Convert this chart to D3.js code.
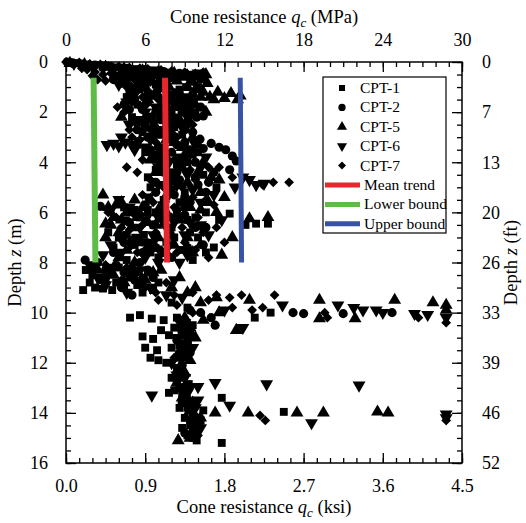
<!DOCTYPE html>
<html><head><meta charset="utf-8">
<script src="https://cdn.jsdelivr.net/npm/d3@7"></script>
<style>body{margin:0;background:#fff;} svg{display:block;}</style>
</head><body>
<svg id="c" width="526" height="523"></svg>
<script>
// ---- data: [qc (MPa), depth z (m)] ----
const cpt1 = [[0.2,0.02],[0.8,0.05],[1.6,0.1],[2.8,0.15],[4.0,0.22],[5.2,0.3],[6.4,0.35],
[4.2,0.8],[5.5,1.1],[6.8,0.9],[8.0,1.3],[9.1,1.0],[6.2,1.6],[7.4,2.0],[8.6,1.8],[5.0,2.2],[6.6,2.5],[8.2,2.6],[9.3,2.3],[4.6,1.4],[7.0,2.9],
[6.0,3.6],[7.2,3.9],[8.4,4.1],[9.6,3.7],[6.2,4.6],[6.4,5.0],[7.8,4.8],[9.0,5.2],[10.4,4.5],[11.4,5.0],[5.4,3.3],
[4.4,5.8],[5.6,6.2],[6.8,6.0],[8.0,6.6],[9.2,6.3],[10.6,6.0],[12.4,6.05],[13.6,6.5],[14.4,6.45],[15.3,6.45],[4.0,7.0],[5.2,7.3],[6.4,7.6],[7.6,7.2],[8.8,7.5],[10.0,7.0],[11.2,7.4],[3.2,6.8],[5.9,6.9],[9.6,7.9],
[1.5,8.3],[2.0,8.5],[2.6,8.7],[1.3,9.1],[2.2,9.0],[2.8,9.04],[3.5,9.1],[3.2,8.4],[4.0,8.2],[4.8,8.6],[5.4,8.9],[6.2,8.4],[3.8,8.8],[5.8,9.2],[7.0,8.8],
[4.85,10.2],[5.6,10.1],[6.5,10.24],[7.4,10.3],[15.5,10.0],[14.3,10.2],[8.0,9.6],[9.2,9.8],
[6.0,11.4],[6.4,11.8],[6.6,11.05],[6.9,11.5],[7.0,11.9],[5.8,10.95],[7.2,10.7],[8.2,10.6],[9.0,10.9],[8.6,11.3],[9.6,10.5],[8.4,11.8],
[8.4,12.3],[8.8,12.6],[9.3,12.85],[8.2,13.1],[8.8,13.3],[11.8,13.4],[9.2,13.8],[9.6,14.1],[9.4,14.5],[9.8,14.8],[9.9,15.1],[16.5,13.96],[11.8,15.2],[10.2,14.3],[9.0,13.6],[10.4,13.9],
[3.8,0.55],[5.0,0.5],[6.0,0.6],[7.6,0.55],[5.6,0.75],[7.2,0.8],[8.6,1.1],[10.0,1.0],[4.8,1.2],[6.6,1.35],[7.8,1.55],[9.6,1.5],[5.4,1.7],[8.0,2.1],[9.8,2.0],[6.0,2.35],[7.6,2.6],[8.8,2.9],[5.8,2.8],[9.0,3.4],[6.8,3.9],[8.0,4.4],[9.2,4.0],[10.0,3.6],[6.8,4.3],[7.4,5.5],[8.6,5.6],[5.2,5.9],[6.2,5.9],[7.4,6.4],[8.4,6.1],[9.8,6.2],[4.6,6.9],[6.0,7.2],[7.0,7.8],[8.2,7.0],[9.4,6.8],[10.6,7.6],[11.6,6.3],[3.6,7.4],[4.6,7.9],[2.2,8.2],[3.0,8.8],[4.4,9.0],[5.0,8.4],[6.6,9.1],[1.8,8.8],[8.4,10.2],[7.8,10.9],[8.0,11.4],[7.6,12.0],[8.0,12.6],[7.8,13.2],[8.6,13.8],[9.0,14.2],[9.2,14.9],[9.6,15.0],[8.8,14.6]];
const cpt2 = [[0.1,0.0],[0.5,0.03],[1.2,0.08],[2.2,0.12],[3.4,0.18],[4.6,0.25],[6.0,0.3],[7.4,0.38],[8.6,0.45],[10.0,0.55],
[3.6,0.7],[5.0,0.6],[6.0,1.0],[7.0,1.4],[8.4,0.7],[9.6,1.3],[10.2,1.8],[9.9,2.2],[10.4,2.15],[8.8,2.0],[7.6,1.7],[5.8,1.9],[4.4,1.7],[6.4,2.2],[7.8,2.4],[9.0,2.7],[5.4,2.7],[6.2,3.0],
[10.15,3.08],[11.0,3.25],[11.6,3.4],[12.1,3.5],[12.6,3.75],[12.9,3.95],[12.4,4.3],
[7.0,3.4],[8.0,3.6],[9.0,3.2],[9.8,4.0],[7.4,4.4],[8.6,4.7],[10.0,4.9],[11.2,4.4],[6.8,5.2],[8.2,5.3],[9.4,5.6],
[2.6,5.76],[4.8,6.4],[6.0,5.7],[7.2,6.2],[8.4,5.9],[9.8,6.6],[5.0,7.1],[6.8,7.4],[8.0,7.8],[10.4,7.3],[3.6,7.6],[1.45,7.9],[2.4,8.0],
[2.0,8.2],[3.0,8.6],[4.4,8.4],[5.6,8.0],[6.6,8.6],[4.2,9.0],[5.0,9.3],
[17.2,10.0],[18.0,10.04],[21.0,10.04],[24.7,10.0],[10.2,10.0],[11.0,10.2],[11.3,10.5],[9.4,9.9],
[8.8,10.8],[9.2,11.2],[8.6,11.6],[8.8,12.1],[8.4,12.7],[8.6,13.0],
[4.2,0.6],[5.6,0.55],[6.8,0.5],[7.8,0.65],[9.4,0.65],[4.8,0.95],[6.2,1.25],[7.4,1.05],[8.6,1.3],[5.2,1.5],[8.2,1.6],[9.2,1.8],[4.8,1.9],[6.8,2.0],[7.2,2.3],[8.4,2.45],[6.0,2.6],[9.6,2.8],[7.8,3.0],[8.4,3.3],[6.4,3.5],[9.4,3.5],[10.4,3.45],[7.2,4.1],[8.4,4.4],[9.8,4.6],[10.8,4.8],[6.8,4.8],[7.6,5.4],[9.0,5.4],[10.6,5.2],[5.6,6.1],[6.6,6.5],[7.8,6.8],[9.0,6.1],[10.6,6.6],[4.4,7.2],[5.8,7.6],[7.4,7.6],[9.2,7.4],[3.0,8.3],[3.8,8.1],[5.2,8.7],[6.2,8.3],[8.6,10.3],[9.0,10.6],[8.4,11.1],[9.4,11.6],[8.4,12.4],[8.8,13.6],[9.4,14.3],[9.0,14.8]];
const cpt5 = [[0.3,0.05],[1.4,0.1],[3.0,0.2],[4.4,0.27],[5.8,0.35],[7.0,0.4],[8.2,0.45],[9.2,0.55],[10.2,0.6],[10.6,0.5],
[8.9,0.6],[9.6,0.8],[10.3,0.7],[10.7,0.85],[9.2,1.0],
[10.9,1.4],[11.5,1.2],[12.0,1.45],[12.5,1.25],[13.0,1.5],[13.2,1.35],[11.2,1.5],[10.4,1.2],
[5.4,0.9],[6.8,1.2],[7.8,1.0],[8.6,1.5],[9.8,1.7],[7.2,2.1],[8.6,2.3],[9.4,2.0],[5.8,2.4],[8.0,2.8],[6.8,2.6],
[7.6,3.1],[8.8,3.4],[9.6,3.0],[7.6,3.8],[8.8,4.2],[10.4,4.0],[11.6,4.7],[6.8,4.4],[9.2,4.8],[10.2,5.2],[12.0,5.4],
[2.8,5.3],[3.0,6.45],[3.4,6.5],[3.8,5.7],[4.2,5.6],[4.6,6.0],[5.2,5.5],[5.8,5.8],[6.4,5.5],[7.0,5.9],[3.6,6.2],[4.0,6.8],[5.0,6.6],[6.2,6.4],[7.6,6.0],[8.6,6.3],[9.4,5.8],[10.8,5.6],[13.9,6.25],[15.3,6.2],[12.6,7.0],[11.8,7.7],[5.6,7.2],[7.0,7.0],[8.2,7.3],[9.6,7.6],[4.6,7.5],[3.0,7.0],
[2.4,8.3],[3.6,8.5],[5.0,8.2],[6.0,8.7],[7.2,8.3],[8.0,9.0],[9.2,9.2],[10.2,9.6],[13.9,9.5],
[19.2,9.5],[24.9,9.5],[27.8,9.6],[28.8,9.7],[28.8,9.9],[19.2,10.24],[21.9,10.24],[12.9,10.7],[11.4,9.4],[11.6,10.0],[10.4,10.3],
[9.4,10.6],[9.8,11.0],[9.2,11.5],[9.4,11.9],[9.0,12.4],[8.8,13.4],[9.4,13.9],[10.0,14.4],[9.6,14.7],[8.5,15.1],
[13.8,14.0],[17.5,14.0],[19.5,14.0],[23.6,13.96],[24.4,14.0],[11.3,14.0],
[5.0,0.45],[6.6,0.5],[7.6,0.6],[8.4,0.75],[9.8,1.1],[6.0,0.8],[7.2,0.9],[5.0,1.3],[6.2,1.5],[7.4,1.6],[8.2,1.8],[10.2,1.4],[10.6,2.0],[4.2,2.2],[6.6,2.3],[9.0,2.5],[7.4,2.9],[8.2,3.2],[9.0,3.7],[10.0,3.3],[6.4,3.9],[7.2,4.3],[8.2,4.6],[10.0,4.4],[11.0,4.6],[7.8,5.2],[9.0,5.8],[10.2,5.9],[11.4,6.0],[3.2,5.8],[4.2,6.3],[5.4,6.2],[6.8,6.5],[8.0,6.9],[9.2,7.0],[10.2,7.3],[6.2,7.4],[7.6,7.6],[4.0,7.8],[5.2,8.0],[8.6,8.6],[6.6,8.4],[4.4,8.8],[9.8,9.0],[9.0,10.2],[9.4,10.8],[8.8,11.3],[9.0,11.8],[8.6,12.2],[8.4,12.8],[9.0,13.2],[9.6,13.6],[10.2,14.2],[9.8,14.5],[9.4,15.0]];
const cpt6 = [[0.6,0.06],[2.0,0.14],[3.6,0.22],[5.0,0.28],[6.6,0.33],[7.8,0.42],[9.4,0.5],
[4.0,0.9],[5.2,1.3],[6.4,0.7],[7.2,1.6],[8.0,1.9],[9.0,1.4],[6.0,2.0],[4.8,2.5],[7.4,2.7],[8.8,2.6],
[3.1,3.3],[3.6,3.25],[4.0,3.35],[4.5,3.2],[5.0,3.3],[5.5,3.15],[6.0,3.4],[6.4,3.1],[4.2,3.0],[5.2,3.5],
[6.6,3.7],[7.8,4.0],[9.2,4.5],[10.6,3.8],[7.0,4.9],[8.0,5.1],[13.9,4.7],[13.4,4.6],[14.4,4.9],[12.8,5.0],[15.0,4.85],[11.2,5.3],
[3.4,5.9],[4.4,6.3],[5.6,6.6],[6.6,6.9],[7.8,6.7],[9.0,6.9],[10.2,6.5],[11.8,6.3],[4.8,7.3],[6.0,7.8],[7.2,7.6],[8.6,8.0],[3.4,7.3],[2.8,7.7],
[1.8,8.1],[3.0,8.9],[4.6,9.2],[6.4,9.0],[7.6,9.3],[8.8,9.4],
[20.6,9.7],[21.8,9.8],[22.5,9.9],[23.5,9.9],[24.0,10.0],[26.4,10.04],[27.4,10.08],[16.4,9.7],[13.4,10.6],[28.8,10.2],[12.0,9.9],
[9.0,10.4],[8.4,11.0],[9.6,11.4],[8.0,12.0],[8.4,12.5],[11.3,12.8],[15.2,12.85],[22.2,12.9],[10.0,12.96],[6.5,13.3],[12.4,13.7],[18.6,14.4],[28.8,14.05],[28.8,14.2],[9.2,13.2],[10.0,13.5],
[4.4,0.5],[5.8,0.55],[7.0,0.6],[8.4,0.55],[10.0,0.45],[4.6,0.75],[5.8,0.95],[7.0,1.1],[8.4,1.2],[9.6,1.6],[4.6,1.6],[5.6,1.75],[6.8,1.8],[8.2,2.2],[9.2,2.2],[5.6,2.3],[6.6,2.8],[8.2,3.1],[7.2,3.4],[9.8,3.3],[8.6,3.8],[10.2,4.2],[7.0,4.2],[8.4,4.9],[9.6,5.1],[6.2,5.4],[7.4,5.7],[8.8,5.6],[10.2,5.6],[4.0,5.5],[4.8,5.8],[6.0,6.3],[7.0,6.2],[8.2,6.4],[9.4,6.4],[10.8,6.9],[5.4,7.0],[6.6,7.2],[7.8,7.3],[9.2,7.7],[4.2,7.6],[5.6,8.3],[7.0,8.0],[2.4,8.6],[3.6,8.2],[8.2,8.7],[5.8,8.8],[8.6,10.6],[9.2,11.0],[8.8,11.7],[8.4,12.2],[9.0,12.6],[9.4,13.0],[9.8,13.8],[10.2,14.6],[9.6,14.3]];
const cpt7 = [[0.0,0.0],[0.4,0.04],[1.0,0.02],[1.8,0.08],[2.6,0.1],[3.2,0.16],[4.0,0.18],[4.8,0.22],[5.6,0.25],[6.2,0.28],[7.2,0.32],[8.0,0.36],[9.0,0.4],
[1.6,0.3],[2.2,0.4],[2.8,0.5],[3.4,0.45],[4.0,0.55],[2.4,0.7],[3.0,0.75],
[4.6,1.0],[5.8,1.4],[6.6,0.8],[7.6,1.2],[8.8,1.7],[4.4,2.0],[6.8,1.9],[7.8,2.3],[9.6,2.5],[5.0,3.0],[6.8,3.2],[8.4,3.0],
[4.6,4.2],[5.8,3.9],[7.0,3.7],[8.2,3.9],[9.4,4.3],[10.8,4.2],[6.4,4.7],[7.4,5.0],[8.8,5.0],[15.7,4.8],[16.9,4.8],[14.9,4.9],[12.6,4.6],[10.6,5.5],
[3.2,6.0],[4.2,6.6],[5.2,6.1],[6.2,6.1],[7.4,6.5],[8.8,6.6],[10.0,6.2],[11.4,6.6],[4.2,7.1],[5.4,7.6],[6.6,7.3],[7.8,7.8],[9.0,7.2],[10.8,7.8],[12.0,7.2],
[3.0,8.1],[4.2,8.7],[5.4,8.4],[6.0,9.0],[7.0,9.5],[8.2,9.3],[9.6,9.2],
[12.4,9.4],[13.3,9.3],[12.6,9.8],[14.1,9.9],[14.9,9.8],[15.8,9.3],[19.6,10.0],[19.8,10.2],[26.7,10.2],[28.8,10.4],[10.8,9.5],
[8.6,10.3],[9.4,10.8],[8.8,11.4],[8.2,11.8],[8.6,12.2],[9.0,12.9],[9.4,13.6],[9.8,14.1],[14.7,14.1],[15.1,14.3],[28.8,14.3],[10.0,14.9],
[0.6,0.1],[1.2,0.15],[2.0,0.2],[2.8,0.28],[3.6,0.3],[4.4,0.35],[5.4,0.4],[6.4,0.42],[7.4,0.48],[8.4,0.52],[9.8,0.45],[10.4,0.4],[1.2,0.25],[2.0,0.55],[3.6,0.65],[5.2,0.7],[4.2,0.85],[5.2,1.1],[6.2,1.15],[7.0,1.5],[8.0,1.45],[9.2,1.5],[3.9,1.8],[5.0,1.6],[6.0,1.75],[7.4,1.85],[5.2,2.4],[6.4,2.7],[8.0,2.6],[9.2,2.4],[4.8,2.7],[5.6,3.1],[7.4,3.6],[9.0,3.9],[5.4,4.4],[7.8,4.5],[9.8,4.7],[11.6,4.2],[5.8,5.3],[6.6,5.6],[8.2,5.8],[9.6,5.4],[11.2,5.7],[3.8,6.2],[4.8,6.7],[5.8,6.5],[6.8,6.8],[8.0,6.2],[9.4,6.4],[10.4,6.8],[4.8,7.4],[6.0,7.5],[7.2,7.5],[8.4,7.6],[9.8,7.5],[3.4,8.3],[4.6,8.2],[5.8,8.6],[6.8,9.2],[7.6,8.8],[11.4,9.3],[8.4,9.7],[9.6,10.0],[9.0,10.5],[9.2,11.1],[8.6,11.6],[9.0,12.5],[8.8,13.0],[9.2,13.4],[9.6,13.9],[9.6,14.5],[9.8,14.7]];

const seriesNames = ["CPT-1","CPT-2","CPT-5","CPT-6","CPT-7"];
const seriesData = [cpt1, cpt2, cpt5, cpt6, cpt7];

// trend lines: [qc top, depth top, qc bottom, depth bottom]
const trendNames = ["Mean trend","Lower bound","Upper bound"];
const trendLines = [[7.5,0.63,7.65,8.0],[2.09,0.63,2.23,8.0],[13.2,0.63,13.3,8.0]];

const mpaTicks = [0,6,12,18,24,30];
const ksiTicks = [0,0.9,1.8,2.7,3.6,4.5];
const depthTicks = [0,2,4,6,8,10,12,14,16];
const ftLabels = ["0","7","13","20","26","33","39","46","52"];

// ---- drawing ----
const svg = d3.select("#c");
const L=66, R=462, T=62, B=463;
const x = d3.scaleLinear().domain([0,30]).range([L,R]);
const xk = d3.scaleLinear().domain([0,4.5]).range([L,R]);
const y = d3.scaleLinear().domain([0,16]).range([T,B]);
const FONT = "'Liberation Serif','Times New Roman',serif";

// symbols
const symDefs = [
  {type:d3.symbolSquare,size:62,rot:0},
  {type:d3.symbolCircle,size:66,rot:0},
  {type:d3.symbolTriangle,size:72,rot:0},
  {type:d3.symbolTriangle,size:72,rot:180},
  {type:d3.symbolSquare,size:48,rot:45}
];
seriesData.forEach((data,i)=>{
  const s = symDefs[i];
  svg.append("g").selectAll("path").data(data).join("path")
    .attr("d", d3.symbol().type(s.type).size(s.size))
    .attr("transform", d=>`translate(${x(d[0])},${y(d[1])}) rotate(${s.rot})`)
    .attr("fill","#000");
});

// trend lines (on top of points)
const trendColors = ["#e8262d","#5dbb46","#3953a4"];
const trendWidths = [6,6,5];
svg.append("g").selectAll("line").data(trendLines).join("line")
  .attr("x1",d=>x(d[0])).attr("y1",d=>y(d[1])).attr("x2",d=>x(d[2])).attr("y2",d=>y(d[3]))
  .attr("stroke",(d,i)=>trendColors[i]).attr("stroke-width",(d,i)=>trendWidths[i]);

// axes
function styleAxis(g){
  g.select(".domain").remove();
  g.selectAll("line").attr("stroke","#000").attr("stroke-width",1.3);
  g.selectAll("text").attr("font-family",FONT).attr("font-size",18).attr("fill","#000");
}
const minorMpa = d3.range(0,31,1);
const minorKsi = d3.range(0,4.5001,0.15);
const minorDepth = d3.range(0,16.001,0.5);

svg.append("g").attr("transform",`translate(0,${T})`)
  .call(d3.axisTop(x).tickValues(minorMpa).tickSize(-5).tickFormat("")).call(styleAxis);
svg.append("g").attr("transform",`translate(0,${T})`)
  .call(d3.axisTop(x).tickValues(mpaTicks).tickSize(-10).tickPadding(16).tickFormat(d3.format("d"))).call(styleAxis);
svg.append("g").attr("transform",`translate(0,${B})`)
  .call(d3.axisBottom(xk).tickValues(minorKsi).tickSize(-5).tickFormat("")).call(styleAxis);
svg.append("g").attr("transform",`translate(0,${B})`)
  .call(d3.axisBottom(xk).tickValues(ksiTicks).tickSize(-10).tickPadding(16).tickFormat(d3.format(".1f"))).call(styleAxis);
svg.append("g").attr("transform",`translate(${L},0)`)
  .call(d3.axisLeft(y).tickValues(minorDepth).tickSize(-5).tickFormat("")).call(styleAxis);
svg.append("g").attr("transform",`translate(${L},0)`)
  .call(d3.axisLeft(y).tickValues(depthTicks).tickSize(-10).tickPadding(18).tickFormat(d3.format("d"))).call(styleAxis);
svg.append("g").attr("transform",`translate(${R},0)`)
  .call(d3.axisRight(y).tickValues(minorDepth).tickSize(-5).tickFormat("")).call(styleAxis);
svg.append("g").attr("transform",`translate(${R},0)`)
  .call(d3.axisRight(y).tickValues(depthTicks).tickSize(-10).tickPadding(20).tickFormat((d,i)=>ftLabels[i])).call(styleAxis);

svg.append("rect").attr("x",L).attr("y",T).attr("width",R-L).attr("height",B-T)
  .attr("fill","none").attr("stroke","#000").attr("stroke-width",1.5);

// axis titles
function title(g, pre, post){
  const t = g.append("text").attr("font-family",FONT).attr("font-size",18.5).attr("fill","#000").attr("text-anchor","middle");
  t.append("tspan").text(pre);
  t.append("tspan").attr("font-style","italic").text(pre.startsWith("Depth")?"z":"q");
  if(!pre.startsWith("Depth")) t.append("tspan").attr("font-style","italic").attr("font-size",13).attr("dy",4).text("c");
  t.append("tspan").attr("dy",pre.startsWith("Depth")?0:-4).text(post);
  return t;
}
title(svg,"Cone resistance "," (MPa)").attr("x",(L+R)/2).attr("y",23);
title(svg,"Cone resistance "," (ksi)").attr("x",(L+R)/2).attr("y",513);
title(svg,"Depth "," (m)").attr("transform",`translate(21,${(T+B)/2}) rotate(-90)`);
title(svg,"Depth "," (ft)").attr("transform",`translate(517,${(T+B)/2}) rotate(-90)`);

// legend
const lg = svg.append("g");
lg.append("rect").attr("x",323).attr("y",77).attr("width",123).attr("height",156)
  .attr("fill","#fff").attr("stroke","#000").attr("stroke-width",1.2);
const rowY = i => 88 + i*19.4;
const legSym = [36,42,44,44,32];
seriesNames.forEach((n,i)=>{
  const s = symDefs[i];
  lg.append("path").attr("d", d3.symbol().type(s.type).size(legSym[i]))
    .attr("transform",`translate(342,${rowY(i)}) rotate(${s.rot})`).attr("fill","#000");
  lg.append("text").attr("x",360).attr("y",rowY(i)+5).text(n)
    .attr("font-family",FONT).attr("font-size",15.5).attr("fill","#000");
});
trendNames.forEach((n,j)=>{
  const i = j+5;
  lg.append("line").attr("x1",325).attr("x2",360).attr("y1",rowY(i)).attr("y2",rowY(i))
    .attr("stroke",trendColors[j]).attr("stroke-width",5);
  lg.append("text").attr("x",364).attr("y",rowY(i)+5).text(n)
    .attr("font-family",FONT).attr("font-size",15.5).attr("fill","#000");
});
</script>
</body></html>
